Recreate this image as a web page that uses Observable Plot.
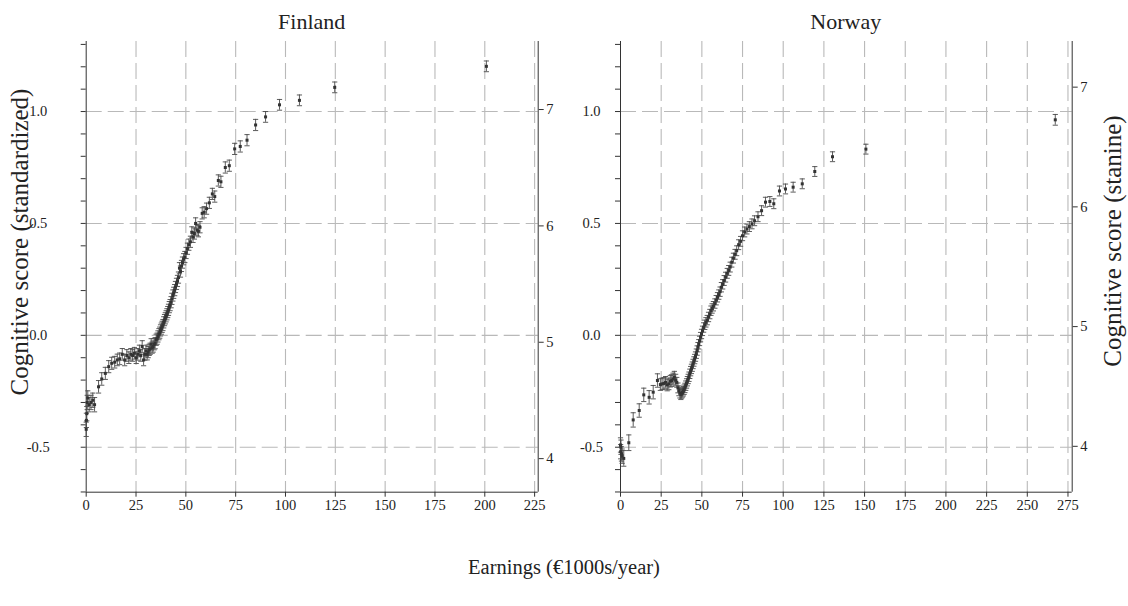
<!DOCTYPE html>
<html><head><meta charset="utf-8">
<script src="https://cdn.jsdelivr.net/npm/d3@7"></script>
<script src="https://cdn.jsdelivr.net/npm/@observablehq/plot@0.6"></script>
<style>
body{margin:0;background:#fff;}
#wrap{position:relative;width:1128px;height:606px;font-family:"Liberation Serif",serif;color:#222;overflow:hidden;}
#wrap svg, #wrap svg text{font-family:"Liberation Serif",serif !important;}
#wrap svg{font-size:14.5px !important;}
.lbl{position:absolute;white-space:nowrap;line-height:1;transform:translate(-50%,-50%);font-size:20.5px;}
.ttl{font-size:22px;}
.rot{transform:translate(-50%,-50%) rotate(-90deg);font-size:25px;}
.panel{position:absolute;top:0;}
</style></head><body><div id="wrap"></div>
<script>
// ---- Finland ----
const finX = [0.0,0.1,0.3,0.5,0.8,1.5,2.4,3.3,4.2,6.2,7.8,9.6,11.3,12.8,14.3,15.6,16.8,18.1,19.3,20.4,21.4,22.4,23.3,24.2,25.1,25.9,26.7,27.4,28.1,28.8,29.4,30.0,30.6,31.1,31.6,32.1,32.6,33.1,33.6,34.1,34.6,35.1,35.6,36.0,36.5,36.9,37.3,37.7,38.1,38.5,38.9,39.3,39.7,40.1,40.5,40.9,41.3,41.7,42.1,42.6,43.0,43.5,43.9,44.4,44.8,45.3,45.8,46.3,46.8,47.3,47.8,48.3,48.9,49.5,50.1,50.8,51.5,52.3,53.0,53.6,54.3,54.9,55.6,56.3,57.1,58.2,59.2,60.4,61.8,63.3,64.5,66.3,67.6,69.8,71.8,74.5,77.3,80.7,85.0,90.0,97.0,107.0,124.7,200.8];
const finZ = [-0.42,-0.38,-0.35,-0.30,-0.28,-0.31,-0.30,-0.29,-0.31,-0.23,-0.195,-0.17,-0.14,-0.125,-0.12,-0.11,-0.105,-0.085,-0.11,-0.09,-0.10,-0.085,-0.09,-0.08,-0.10,-0.085,-0.07,-0.09,-0.05,-0.11,-0.085,-0.07,-0.085,-0.075,-0.065,-0.06,-0.04,-0.055,-0.05,-0.04,-0.035,-0.02,-0.015,-0.005,0.005,0.012,0.022,0.03,0.038,0.046,0.058,0.068,0.076,0.085,0.094,0.104,0.114,0.126,0.135,0.148,0.163,0.178,0.19,0.202,0.216,0.23,0.243,0.258,0.30,0.285,0.31,0.325,0.34,0.35,0.368,0.387,0.405,0.418,0.46,0.44,0.455,0.50,0.47,0.465,0.483,0.545,0.55,0.566,0.592,0.632,0.62,0.692,0.686,0.75,0.758,0.833,0.844,0.872,0.94,0.976,1.03,1.05,1.108,1.202];
const finErr = [0.032,0.032,0.032,0.032,0.032,0.032,0.032,0.032,0.032,0.028,0.028,0.027,0.027,0.027,0.026,0.026,0.026,0.026,0.026,0.026,0.026,0.026,0.026,0.026,0.026,0.026,0.026,0.026,0.026,0.026,0.026,0.026,0.025,0.025,0.025,0.025,0.025,0.025,0.025,0.025,0.025,0.025,0.025,0.025,0.025,0.025,0.025,0.025,0.025,0.025,0.025,0.025,0.025,0.025,0.025,0.025,0.025,0.025,0.025,0.025,0.025,0.025,0.025,0.025,0.025,0.025,0.025,0.025,0.025,0.025,0.025,0.025,0.025,0.025,0.025,0.025,0.025,0.025,0.025,0.025,0.025,0.025,0.025,0.025,0.025,0.025,0.025,0.025,0.025,0.025,0.025,0.025,0.025,0.025,0.025,0.025,0.025,0.025,0.025,0.024,0.024,0.024,0.024,0.024];
// ---- Norway ----
const norX = [0.0,0.1,0.3,0.6,1.0,2.0,5.1,7.8,11.5,14.3,17.6,20.1,22.7,24.5,25.6,26.7,27.7,28.7,29.7,30.6,31.5,32.3,33.1,33.9,34.6,35.3,35.9,36.5,37.1,37.6,38.1,38.6,39.1,39.6,40.1,40.6,41.1,41.6,42.1,42.6,43.1,43.6,44.1,44.6,45.1,45.6,46.1,46.6,47.1,47.6,48.1,48.6,49.2,49.8,50.4,51.1,51.8,52.5,53.3,54.1,54.9,55.6,56.3,57.1,58.0,58.8,59.6,60.4,61.2,62.0,62.8,63.7,64.6,65.6,66.5,67.4,68.4,69.4,70.4,71.4,72.6,73.8,75.0,76.3,77.7,79.2,80.8,82.4,84.5,86.7,89.1,91.8,94.2,97.7,101.4,106.1,111.7,119.4,130.3,150.8,267.2];
const norZ = [-0.49,-0.52,-0.50,-0.53,-0.54,-0.55,-0.48,-0.378,-0.336,-0.266,-0.277,-0.254,-0.202,-0.22,-0.217,-0.215,-0.21,-0.222,-0.217,-0.205,-0.202,-0.195,-0.187,-0.20,-0.21,-0.235,-0.248,-0.258,-0.265,-0.26,-0.255,-0.25,-0.243,-0.235,-0.225,-0.215,-0.205,-0.195,-0.185,-0.172,-0.16,-0.15,-0.14,-0.128,-0.117,-0.106,-0.095,-0.082,-0.068,-0.053,-0.04,-0.025,-0.008,0.006,0.02,0.035,0.047,0.058,0.068,0.082,0.095,0.11,0.12,0.13,0.142,0.157,0.17,0.182,0.195,0.215,0.228,0.245,0.26,0.277,0.29,0.305,0.327,0.345,0.362,0.378,0.405,0.42,0.445,0.462,0.475,0.486,0.498,0.512,0.53,0.557,0.595,0.598,0.588,0.645,0.654,0.662,0.677,0.732,0.798,0.832,0.963];
const norErr = [0.032,0.032,0.032,0.032,0.032,0.035,0.035,0.032,0.03,0.03,0.03,0.03,0.03,0.026,0.026,0.026,0.026,0.026,0.026,0.026,0.026,0.026,0.026,0.026,0.022,0.022,0.022,0.022,0.022,0.021,0.021,0.021,0.021,0.021,0.021,0.021,0.021,0.021,0.021,0.021,0.021,0.021,0.021,0.021,0.021,0.021,0.021,0.021,0.021,0.021,0.021,0.021,0.021,0.021,0.021,0.021,0.021,0.021,0.021,0.021,0.021,0.021,0.021,0.021,0.021,0.021,0.021,0.021,0.021,0.021,0.021,0.022,0.022,0.022,0.022,0.022,0.022,0.022,0.022,0.022,0.022,0.022,0.022,0.022,0.022,0.022,0.022,0.022,0.022,0.022,0.022,0.022,0.022,0.022,0.022,0.022,0.022,0.022,0.022,0.022,0.024];

// ---- axes / ticks ----
const finXTicks = [0,25,50,75,100,125,150,175,200,225];
const norXTicks = [0,25,50,75,100,125,150,175,200,225,250,275];
const yMinorTicks = [-0.7,-0.6,-0.5,-0.4,-0.3,-0.2,-0.1,0,0.1,0.2,0.3,0.4,0.5,0.6,0.7,0.8,0.9,1.0,1.1,1.2,1.3];
const yMajorTicks = [-0.5,0,0.5,1.0];
const stanineTicks = [4,5,6,7];
// stanine → standardized: z = s5 + (s-5)*unit
const finStanine = {s5:-0.031, unit:0.520};
const norStanine = {s5:0.039, unit:0.535};
const yDomain = [-0.701, 1.313];

const capSymbol = {draw(ctx, size){ const w = Math.sqrt(size/Math.PI); ctx.moveTo(-w,0); ctx.lineTo(w,0); }};

function panel(cfg){
  const data = cfg.x.map((x,i)=>({x, z:cfg.z[i], lo:cfg.z[i]-cfg.e[i], hi:cfg.z[i]+cfg.e[i]}));
  const st = cfg.stanine;
  const fmtMajor = d => yMajorTicks.some(m=>Math.abs(m-d)<1e-9) ? (Math.abs(d)<1e-9 ? "0.0" : (d<0?"-":"")+Math.abs(d).toFixed(1)) : "";
  return Plot.plot({
    width:564, height:606,
    marginLeft:cfg.ml, marginRight:cfg.mr, marginTop:41, marginBottom:114.3,
    style:{fontFamily:"'Liberation Serif', serif", fontSize:"14.5px", color:"#222", background:"transparent", overflow:"visible"},
    x:{domain:cfg.xDomain},
    y:{domain:yDomain},
    marks:[
      Plot.gridX({ticks:cfg.xTicks.filter(t=>t>0), stroke:"#b9b9b9", strokeOpacity:1, strokeWidth:1.1, strokeDasharray:"16,6"}),
      Plot.gridY({ticks:yMajorTicks, stroke:"#b9b9b9", strokeOpacity:1, strokeWidth:1.1, strokeDasharray:"16,6"}),
      Plot.ruleX([cfg.xDomain[0]], {stroke:"#333", strokeWidth:1}),
      Plot.ruleX([cfg.xDomain[1]], {stroke:"#333", strokeWidth:1}),
      Plot.ruleY([yDomain[0]], {stroke:"#333", strokeWidth:1}),
      Plot.axisX({ticks:cfg.xTicks, tickSize:5, tickPadding:3, label:null, tickFormat:d=>String(d), stroke:"#333", fontSize:14.5}),
      Plot.axisY({ticks:yMinorTicks, tickSize:5, tickPadding:cfg.lp, textAnchor:"middle", label:null, tickFormat:fmtMajor, stroke:"#333", fontSize:14.5}),
      Plot.axisY({anchor:"right", ticks:stanineTicks.map(s=>st.s5+(s-5)*st.unit), tickSize:5, tickPadding:3, label:null,
        tickFormat:d=>String(Math.round((d-st.s5)/st.unit+5)), stroke:"#333", fontSize:14.5}),
      Plot.ruleX(data, {x:"x", y1:"lo", y2:"hi", stroke:"#4a4a4a", strokeWidth:1, strokeOpacity:0.9}),
      Plot.dot(data, {x:"x", y:"lo", symbol:capSymbol, r:2.6, stroke:"#4a4a4a", fill:"none", strokeWidth:1, strokeOpacity:0.9}),
      Plot.dot(data, {x:"x", y:"hi", symbol:capSymbol, r:2.6, stroke:"#4a4a4a", fill:"none", strokeWidth:1, strokeOpacity:0.9}),
      Plot.dot(data, {x:"x", y:"z", symbol:"square", r:1.7, fill:"#333", stroke:"none"})
    ]
  });
}

const wrap = document.getElementById("wrap");
const p1 = panel({x:finX, z:finZ, e:finErr, xDomain:[0,226.8], xTicks:finXTicks, ml:85.7, mr:26.3, lp:43, stanine:finStanine});
p1.classList.add("panel"); p1.style.left="0px"; wrap.appendChild(p1);
const p2 = panel({x:norX, z:norZ, e:norErr, xDomain:[0,277.6], xTicks:norXTicks, ml:56, mr:56.3, lp:24, stanine:norStanine});
p2.classList.add("panel"); p2.style.left="564px"; wrap.appendChild(p2);

function label(text, x, y, cls){
  const d = document.createElement("div");
  d.className = "lbl" + (cls ? " " + cls : "");
  d.textContent = text; d.style.left = x+"px"; d.style.top = y+"px";
  wrap.appendChild(d);
}
label("Finland", 311.7, 22, "ttl");
label("Norway", 845.8, 22, "ttl");
label("Cognitive score (standardized)", 19, 242, "rot");
label("Cognitive score (stanine)", 1112, 241, "rot");
label("Earnings (€1000s/year)", 564, 567);
</script>
</body></html>
